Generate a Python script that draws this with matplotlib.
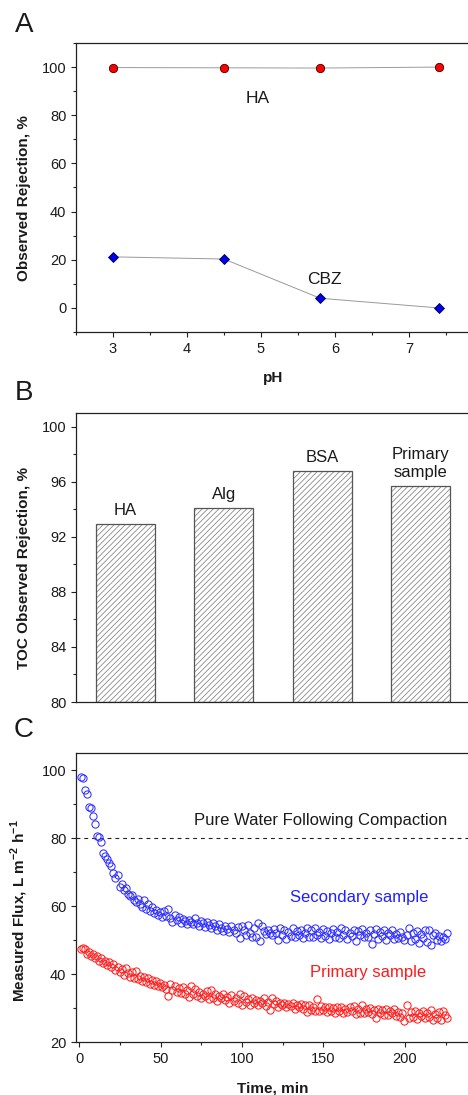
import matplotlib
matplotlib.use('Agg')
import matplotlib.pyplot as plt
import numpy as np
from matplotlib.ticker import MultipleLocator, FixedLocator

plt.rcParams['font.family'] = ['Liberation Sans', 'DejaVu Sans']
plt.rcParams['mathtext.fontset'] = 'custom'
plt.rcParams['mathtext.rm'] = 'Liberation Sans'
plt.rcParams['mathtext.bf'] = 'Liberation Sans:bold'
plt.rcParams['hatch.linewidth'] = 0.6
plt.rcParams['hatch.color'] = '#8a8a8a'

# --- A : rejection vs pH
ph = [3.0, 4.5, 5.8, 7.4]
rej_ha = [99.8, 99.7, 99.6, 100.0]
rej_cbz = [21.2, 20.3, 4.0, 0.0]

# --- B : TOC rejection per foulant
foulants = ['HA', 'Alg', 'BSA', 'Primary\nsample']
toc_rej = [92.9, 94.1, 96.8, 95.7]

# --- C : flux decline, one reading every 1.25 min starting at 1 min
t_start, t_step = 1.0, 1.25
flux_secondary = [
    97.8, 97.7, 94.0, 93.0, 89.0, 88.8, 86.5, 84.0, 80.6, 80.3,
    78.8, 75.5, 74.8, 73.8, 72.6, 71.8, 69.6, 68.2, 69.2, 65.6,
    66.4, 64.8, 65.2, 63.6, 62.8, 63.2, 61.9, 61.2, 62.0, 60.6,
    59.8, 61.8, 59.2, 60.5, 58.4, 59.6, 57.8, 58.9, 57.4, 58.2,
    56.9, 58.6, 57.2, 59.0, 56.4, 55.2, 57.4, 55.8, 56.8, 55.0,
    56.2, 55.6, 54.8, 56.0, 55.3, 54.6, 56.4, 55.0, 54.2, 55.6,
    54.9, 53.8, 55.2, 54.4, 53.6, 55.0, 54.2, 53.0, 54.6, 53.4,
    52.6, 54.0, 53.2, 52.4, 54.2, 53.0, 52.0, 53.8, 50.6, 54.0,
    52.8, 51.6, 54.4, 52.2, 50.8, 53.4, 51.0, 55.0, 49.8, 54.2,
    52.6, 51.8, 53.0, 52.2, 51.4, 53.2, 52.0, 50.0, 53.6, 51.6,
    52.8, 50.4, 52.4, 51.2, 53.4, 50.8, 52.6, 51.4, 53.0, 50.6,
    52.2, 53.6, 51.0, 52.8, 50.8, 53.4, 51.6, 52.4, 50.6, 53.2,
    51.2, 52.6, 50.4, 52.0, 53.2, 51.0, 52.4, 50.6, 53.4, 51.6,
    52.8, 50.2, 52.2, 51.2, 53.0, 49.8, 52.6, 51.4, 53.2, 50.8,
    52.0, 51.0, 52.8, 48.8, 51.8, 53.2, 50.4, 52.4, 51.2, 53.0,
    50.0, 52.2, 51.4, 52.8, 50.2, 51.8, 50.6, 52.4, 51.0, 50.0,
    51.6, 53.4, 49.6, 52.2, 50.4, 52.6, 49.2, 51.8, 50.6, 52.8,
    49.4, 53.0, 48.6, 51.4, 52.2, 50.0, 51.2, 49.6, 51.0, 50.4,
    52.0,
]
flux_primary = [
    47.4, 47.6, 47.5, 46.0, 46.6, 45.2, 46.0, 44.6, 45.4, 43.8,
    44.8, 43.2, 43.8, 42.6, 43.4, 42.0, 42.8, 41.2, 42.0, 40.6,
    41.4, 39.8, 41.8, 40.2, 39.2, 40.6, 38.8, 40.8, 38.4, 39.4,
    38.0, 39.0, 37.6, 38.8, 37.2, 38.2, 36.8, 37.8, 36.4, 37.4,
    36.2, 36.8, 35.6, 33.6, 37.0, 35.2, 36.4, 34.6, 35.8, 34.4,
    36.2, 34.0, 35.2, 33.2, 36.6, 34.2, 35.6, 33.4, 34.8, 32.8,
    34.2, 33.6, 35.0, 32.6, 35.4, 33.0, 34.0, 32.2, 33.6, 32.8,
    34.2, 32.4, 33.2, 31.6, 33.8, 32.2, 33.0, 31.4, 34.2, 30.8,
    33.4, 31.8, 32.6, 31.0, 33.0, 31.6, 32.4, 30.8, 32.2, 31.4,
    32.8, 30.6, 31.8, 29.4, 33.0, 31.2, 32.0, 30.4, 31.6, 30.8,
    31.4, 30.2, 31.2, 30.6, 31.6, 29.8, 31.0, 30.2, 31.2, 29.6,
    30.8, 28.8, 31.0, 29.4, 30.4, 29.2, 32.6, 29.0, 30.6, 29.4,
    30.2, 28.8, 30.4, 29.2, 30.0, 28.6, 30.2, 29.0, 30.4, 28.4,
    29.8, 28.8, 30.2, 29.0, 30.6, 28.2, 29.8, 28.6, 31.0, 28.4,
    29.6, 28.8, 30.0, 28.2, 29.4, 27.2, 29.8, 28.6, 29.4, 28.0,
    29.6, 27.8, 29.2, 28.4, 29.8, 27.6, 28.8, 27.4, 28.6, 26.2,
    31.0, 27.0, 28.8, 27.4, 29.0, 26.8, 28.4, 27.6, 29.2, 27.0,
    28.6, 27.4, 29.4, 26.6, 28.2, 27.2, 28.8, 26.6, 29.0, 27.8,
    27.0,
]
pure_water_flux = 80.0

time = t_start + t_step * np.arange(len(flux_secondary))

TXT = '#1a1a1a'
W, H = 468, 1095
fig = plt.figure(figsize=(W / 100, H / 100), dpi=100)


def px_axes(left, top, right, bottom):
    return fig.add_axes([left / W, 1 - bottom / H, (right - left) / W, (bottom - top) / H])


def style(ax):
    for s in ax.spines.values():
        s.set_linewidth(0.9)
        s.set_color('#222222')
    ax.tick_params(which='both', direction='out', top=False, right=False,
                   colors='#222222', labelcolor=TXT, labelsize=10.5, width=0.8)
    ax.tick_params(which='major', length=3.5)
    ax.tick_params(which='minor', length=2.2)


# panel A
axA = px_axes(76, 43, 483, 332)
style(axA)
axA.plot(ph, rej_ha, '-', color='#9a9a9a', lw=0.7, zorder=1)
axA.plot(ph, rej_ha, 'o', ms=6, mfc='#ff0000', mec='#3a0000', mew=0.6, zorder=2)
axA.plot(ph, rej_cbz, '-', color='#9a9a9a', lw=0.7, zorder=1)
axA.plot(ph, rej_cbz, 'D', ms=5.5, mfc='#0000ee', mec='#00003a', mew=0.6, zorder=2)
axA.set_xlim(2.5, 8)
axA.set_ylim(-10, 110)
axA.xaxis.set_major_locator(FixedLocator([3, 4, 5, 6, 7]))
axA.xaxis.set_minor_locator(MultipleLocator(0.5))
axA.yaxis.set_major_locator(MultipleLocator(20))
axA.yaxis.set_minor_locator(MultipleLocator(10))
axA.text(4.95, 87, 'HA', fontsize=12.5, color=TXT, ha='center', va='center')
axA.text(5.85, 12, 'CBZ', fontsize=12.5, color=TXT, ha='center', va='center')
axA.set_xlabel('pH', fontsize=11, fontweight='bold', color=TXT)
axA.xaxis.set_label_coords(0.484, -0.135)
axA.set_ylabel('Observed Rejection, %', fontsize=11, fontweight='bold', color=TXT)
axA.yaxis.set_label_coords(-0.11, 0.464)

# panel B
axB = px_axes(76, 413, 470, 702)
style(axB)
xb = np.arange(1, len(foulants) + 1)
axB.bar(xb, [v - 80 for v in toc_rej], bottom=80, width=0.6, color='white',
        hatch='//////', edgecolor='#8a8a8a', linewidth=0, zorder=1)
axB.bar(xb, [v - 80 for v in toc_rej], bottom=80, width=0.6, fill=False,
        edgecolor='#555555', linewidth=0.9, zorder=2)
for x, v, name in zip(xb, toc_rej, foulants):
    axB.text(x, v + 0.45, name, fontsize=12, color=TXT, ha='center', va='bottom',
             linespacing=1.2)
axB.set_xlim(0.5, 4.5)
axB.set_ylim(80, 101)
axB.set_xticks([])
axB.yaxis.set_major_locator(MultipleLocator(4))
axB.yaxis.set_minor_locator(MultipleLocator(2))
axB.set_ylabel('TOC Observed Rejection, %', fontsize=11, fontweight='bold', color=TXT)
axB.yaxis.set_label_coords(-0.114, 0.465)

# panel C
axC = px_axes(76, 753, 470, 1042)
style(axC)
axC.axhline(pure_water_flux, color='#222222', lw=0.8, ls=(0, (3.5, 3.5)), zorder=1)
axC.plot(time, flux_secondary, 'o', ms=5.2, mfc='none', mec='#3030ff', mew=0.75, zorder=2)
axC.plot(time, flux_primary, 'o', ms=5.2, mfc='none', mec='#ff2020', mew=0.75, zorder=2)
axC.set_xlim(-2, 240)
axC.set_ylim(20, 105)
axC.xaxis.set_major_locator(FixedLocator([0, 50, 100, 150, 200]))
axC.xaxis.set_minor_locator(MultipleLocator(25))
axC.yaxis.set_major_locator(MultipleLocator(20))
axC.yaxis.set_minor_locator(MultipleLocator(10))
axC.text(148, 85, 'Pure Water Following Compaction', fontsize=12, color=TXT,
         ha='center', va='center')
axC.text(172, 62.4, 'Secondary sample', fontsize=12, color='#2020ff',
         ha='center', va='center')
axC.text(177.5, 40.4, 'Primary sample', fontsize=12, color='#ff1a1a',
         ha='center', va='center')
axC.set_xlabel('Time, min', fontsize=11, fontweight='bold', color=TXT)
axC.xaxis.set_label_coords(0.5, -0.135)
axC.set_ylabel(r'Measured Flux, L m$^{\mathbf{-2}}$ h$^{\mathbf{-1}}$', fontsize=11,
               fontweight='bold', color=TXT)
axC.yaxis.set_label_coords(-0.117, 0.453)

# panel letters
for letter, yp in [('A', 25), ('B', 393), ('C', 730)]:
    fig.text(24 / W, 1 - yp / H, letter, fontsize=20, color=TXT, ha='center', va='center')

fig.savefig('out.png', dpi=100)
